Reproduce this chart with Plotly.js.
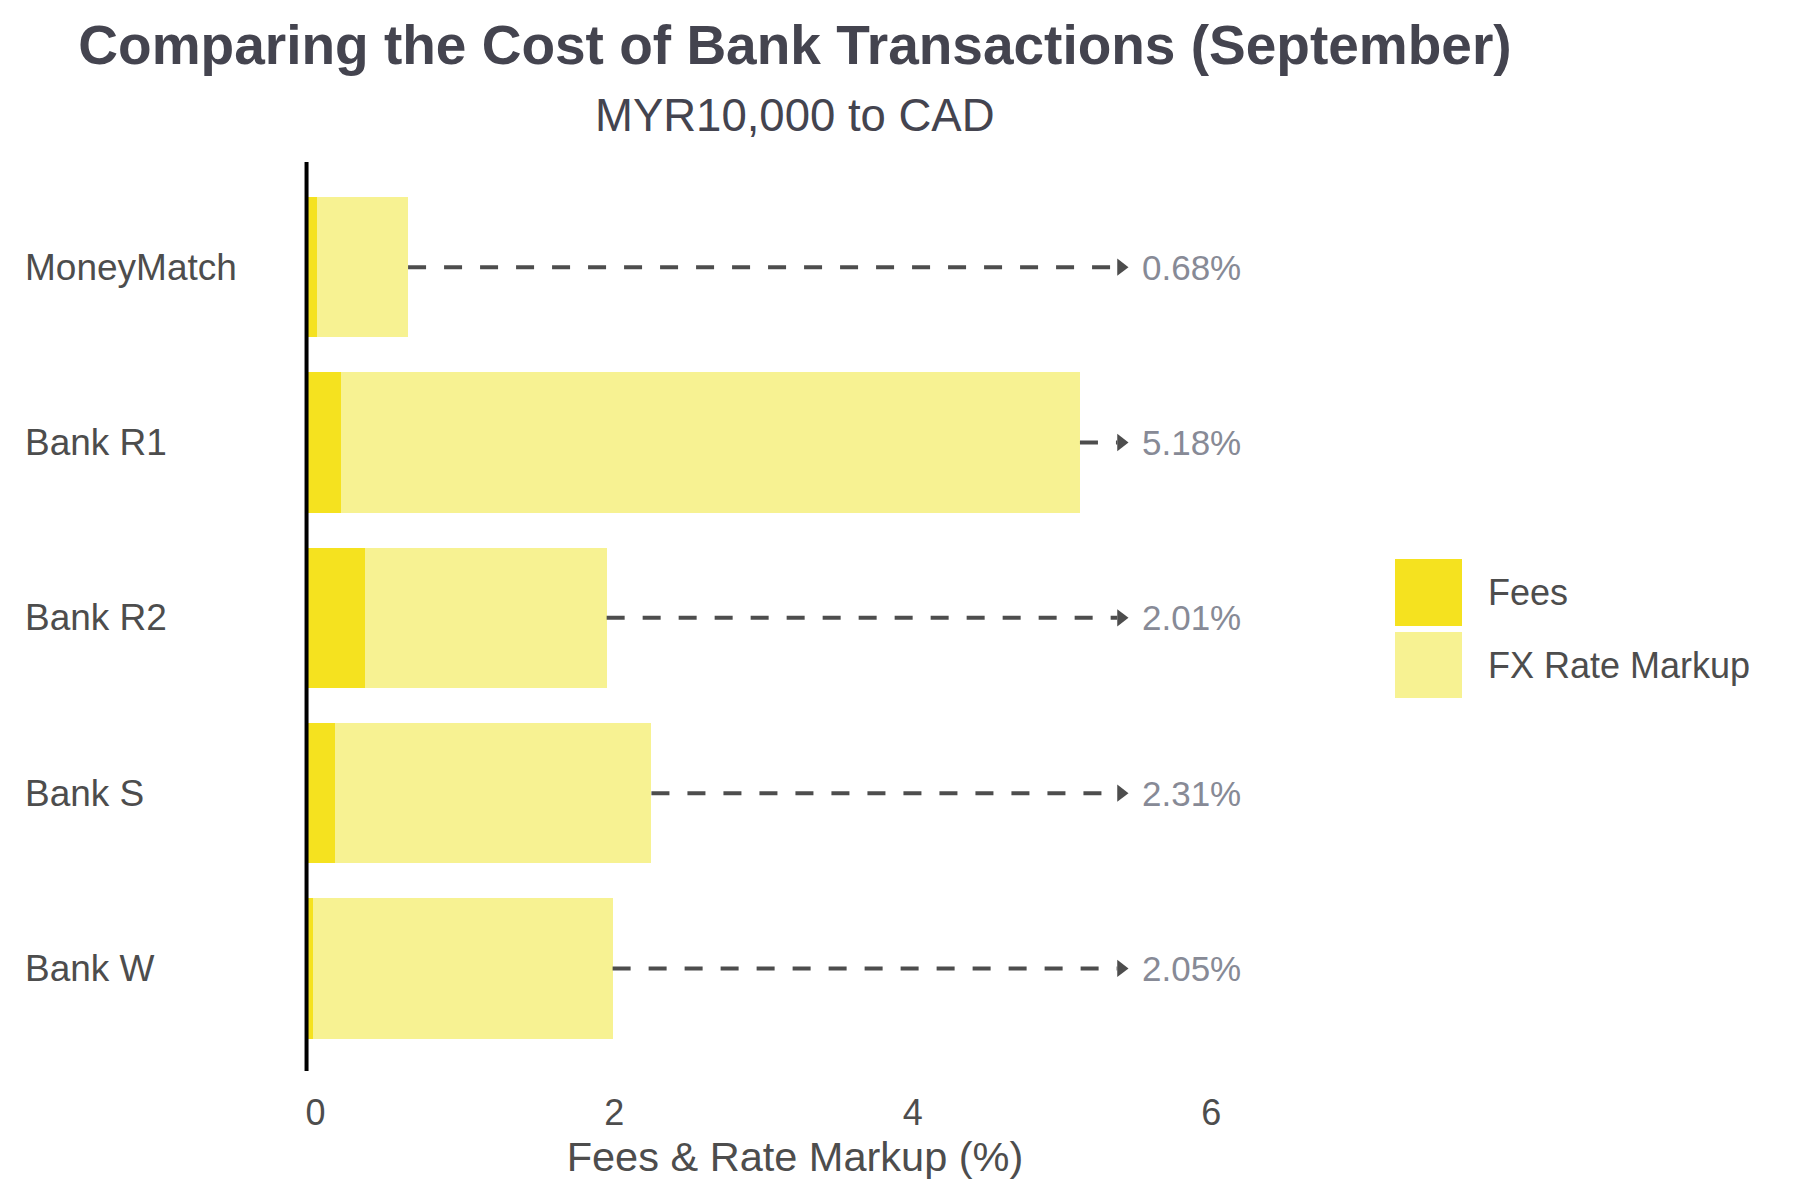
<!DOCTYPE html>
<html>
<head>
<meta charset="utf-8">
<script src="https://cdn.plot.ly/plotly-3.0.1.min.js"></script>
<style>
  html, body { margin: 0; padding: 0; background: #fff; }
  #chart { width: 1800px; height: 1200px; }
</style>
</head>
<body>
<div id="chart"></div>
<script>
const banks = ['MoneyMatch', 'Bank R1', 'Bank R2', 'Bank S', 'Bank W'];
const fees = [0.07, 0.23, 0.39, 0.19, 0.04];
const fxMarkup = [0.61, 4.95, 1.62, 2.12, 2.01];
const seriesNames = ['Fees', 'FX Rate Markup'];
const xTicks = [0, 2, 4, 6];

const FONT = '"Liberation Sans", Arial, Helvetica, sans-serif';
const COLORS = ['#F5E21F', '#F7F292'];
const TEXT = '#4d4d4d';
const ARROW_END = 5.43;
const LABEL_X = 5.585;

// panel in pixels, used to place the hand-made legend in paper units
const PANEL = { left: 261, right: 1329, top: 162, bottom: 1071 };
const px = (x) => (x - PANEL.left) / (PANEL.right - PANEL.left);
const py = (y) => (PANEL.bottom - y) / (PANEL.bottom - PANEL.top);

const totals = banks.map((_, i) => fees[i] + fxMarkup[i]);

const lineX = [];
const lineY = [];
banks.forEach((bank, i) => {
  lineX.push(totals[i], ARROW_END, null);
  lineY.push(bank, bank, null);
});

const data = [
  {
    type: 'bar', orientation: 'h', name: seriesNames[0],
    x: fees, y: banks, width: 0.8,
    marker: { color: COLORS[0], line: { width: 0 } },
  },
  {
    type: 'bar', orientation: 'h', name: seriesNames[1],
    x: fxMarkup, y: banks, width: 0.8,
    marker: { color: COLORS[1], line: { width: 0 } },
  },
  {
    type: 'scatter', mode: 'lines', x: lineX, y: lineY,
    line: { color: TEXT, width: 4, dash: '18px,18px' },
    hoverinfo: 'skip',
  },
  {
    type: 'scatter', mode: 'markers',
    x: banks.map(() => ARROW_END + 0.025), y: banks,
    marker: { symbol: 'triangle-right', size: 15, color: TEXT },
    hoverinfo: 'skip',
  },
];

const annotations = [];
banks.forEach((bank, i) => {
  annotations.push({
    xref: 'paper', yref: 'y', x: px(23), y: bank, xanchor: 'left', yanchor: 'middle',
    text: bank, showarrow: false, font: { family: FONT, size: 37, color: TEXT },
  });
  annotations.push({
    xref: 'x', yref: 'y', x: LABEL_X, y: bank, xanchor: 'left', yanchor: 'middle',
    text: totals[i].toFixed(2) + '%', showarrow: false,
    font: { family: FONT, size: 35, color: '#878a96' },
  });
});
annotations.push({
  xref: 'paper', yref: 'paper', x: 0.5, y: py(115), xanchor: 'center', yanchor: 'middle',
  text: 'MYR10,000 to CAD', showarrow: false, font: { family: FONT, size: 45.5, color: '#44444f' },
});

// legend drawn by hand so the swatches can be as large as the reference
const legendRows = [{ top: 559, bottom: 626 }, { top: 632, bottom: 698 }];
const shapes = [{
  type: 'line', xref: 'x', yref: 'paper', x0: 0, x1: 0, y0: 0, y1: 1,
  line: { color: '#000', width: 4 },
}];
seriesNames.forEach((name, i) => {
  const row = legendRows[i];
  shapes.push({
    type: 'rect', xref: 'paper', yref: 'paper',
    x0: px(1395), x1: px(1462), y0: py(row.bottom), y1: py(row.top),
    fillcolor: COLORS[i], line: { width: 0 },
  });
  annotations.push({
    xref: 'paper', yref: 'paper', x: px(1486), y: py((row.top + row.bottom) / 2),
    xanchor: 'left', yanchor: 'middle', text: name, showarrow: false,
    font: { family: FONT, size: 36, color: TEXT },
  });
});

const layout = {
  width: 1800,
  height: 1200,
  margin: { l: PANEL.left, r: 1800 - PANEL.right, t: PANEL.top, b: 1200 - PANEL.bottom },
  paper_bgcolor: '#fff',
  plot_bgcolor: '#fff',
  showlegend: false,
  barmode: 'stack',
  font: { family: FONT, color: TEXT },
  title: {
    text: '<b>Comparing the Cost of Bank Transactions (September)</b>',
    xref: 'paper', x: 0.5, xanchor: 'center',
    yref: 'container', y: 1 - 45 / 1200, yanchor: 'middle',
    font: { family: FONT, size: 55, color: '#44444f' },
  },
  xaxis: {
    range: [-0.305, 6.848],
    tickvals: xTicks,
    ticktext: xTicks.map(String),
    showgrid: false, zeroline: false, showline: false, ticks: '',
    tickfont: { family: FONT, size: 36, color: TEXT },
    ticklabelstandoff: 17,
    ticklabelshift: 9,
    title: { text: 'Fees & Rate Markup (%)', font: { family: FONT, size: 41.5, color: TEXT }, standoff: 4 },
  },
  yaxis: {
    type: 'category',
    categoryorder: 'array',
    categoryarray: banks,
    range: [4.585, -0.6],
    showticklabels: false,
    showgrid: false, zeroline: false, showline: false, ticks: '',
  },
  shapes,
  annotations,
};

Plotly.newPlot('chart', data, layout, { displayModeBar: false, staticPlot: true });
</script>
</body>
</html>
